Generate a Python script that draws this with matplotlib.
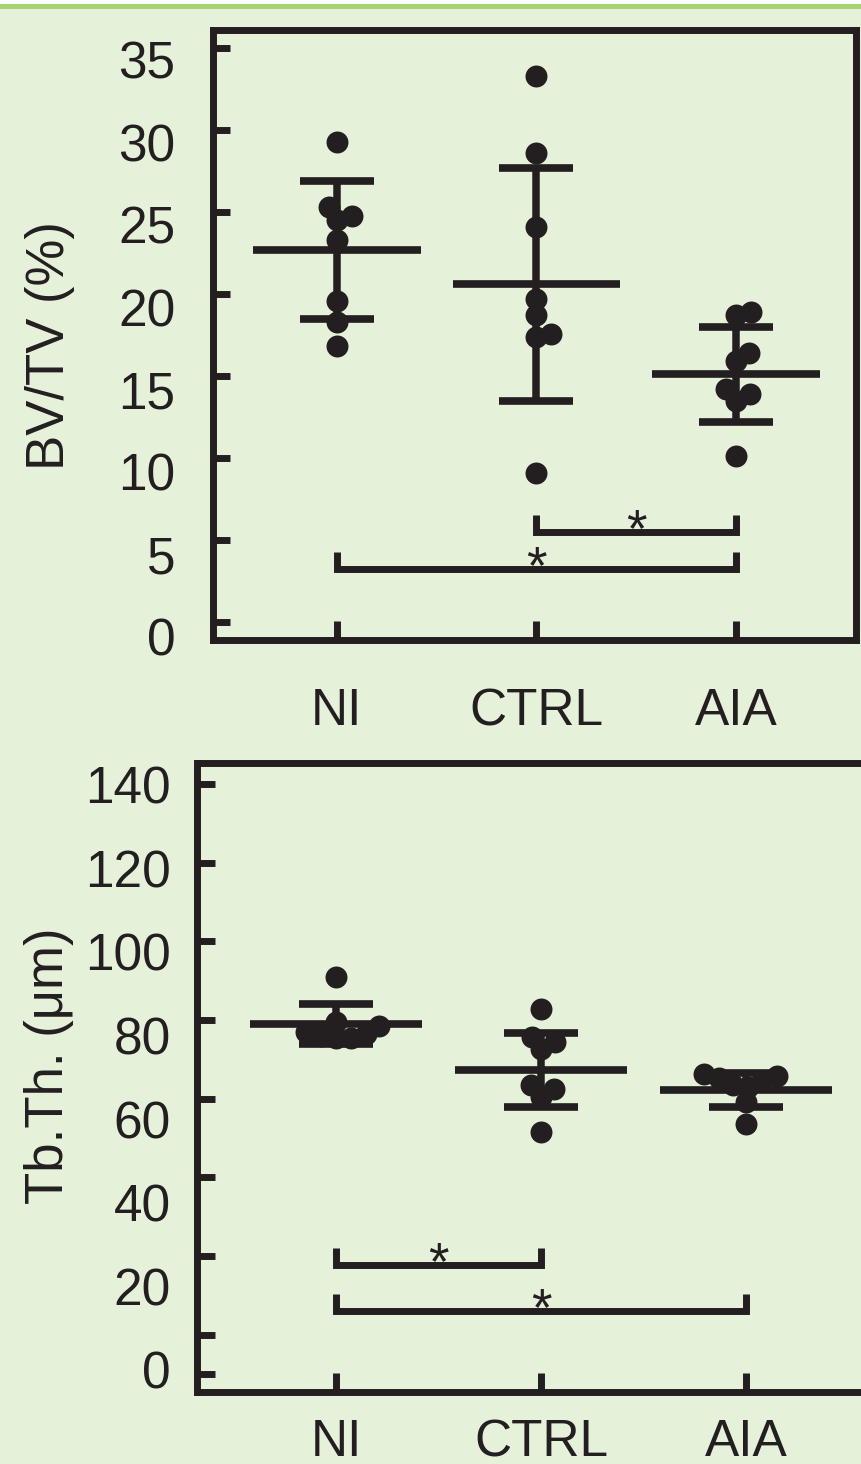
import numpy as np
import matplotlib
matplotlib.use("Agg")
import matplotlib.pyplot as plt
from matplotlib.patches import Rectangle

# ---------------- data ----------------
groups = ["NI", "CTRL", "AIA"]

bvtv_ni = [29.3, 25.3, 24.8, 24.5, 23.3, 19.6, 18.3, 16.85]
bvtv_ctrl = [33.3, 28.6, 24.1, 19.7, 18.7, 17.6, 17.4, 9.1]
bvtv_aia = [18.9, 18.7, 16.4, 15.9, 14.2, 13.9, 13.5, 10.1]
bvtv_mean = [22.7, 20.6, 15.1]
bvtv_sd = [4.2, 7.1, 2.9]
bvtv_ticks = [0, 5, 10, 15, 20, 25, 30, 35]
bvtv_label_span = (-0.9, 34.3)    # where the label texts sit on the axis
bvtv_sig_pairs = [(1, 2), (0, 2)]
bvtv_sig_level = [5.5, 3.25]

tbth_ni = [90.9, 79.5, 78.5, 77.0, 76.5, 76.0, 75.5, 75.5]
tbth_ctrl = [82.7, 75.8, 74.3, 72.6, 63.5, 62.5, 60.5, 51.6]
tbth_aia = [66.4, 65.8, 65.2, 64.5, 63.5, 63.0, 59.2, 53.6]
tbth_mean = [79.0, 67.3, 62.3]
tbth_sd = [5.1, 9.5, 4.3]
tbth_ticks = [-10, 0, 20, 40, 60, 80, 100, 120, 140]
tbth_labels = [0, 20, 40, 60, 80, 100, 120, 140]
tbth_label_span = (-8.9, 139.8)   # where the label texts sit on the axis
tbth_sig_pairs = [(0, 1), (0, 2)]
tbth_sig_level = [17.8, 6.1]

# ---------------- style ----------------
BG = "#E6F1D9"
INK = "#231F20"
GREEN = "#A9D373"
FONT = ["Liberation Sans", "DejaVu Sans"]
plt.rcParams["font.family"] = FONT
TICK_FS = 37
LABEL_FS = 38
STAR_FS = 38

W, H = 862, 1464
DPI = 100
fig = plt.figure(figsize=(W / DPI, H / DPI), dpi=DPI, facecolor=BG)

# top decoration strip
fig.patches.append(Rectangle((0, 1 - 9 / H), 1, 5 / H, transform=fig.transFigure,
                             facecolor=GREEN, edgecolor="none", zorder=0))
fig.patches.append(Rectangle((0, 1 - 4 / H), 1, 4 / H, transform=fig.transFigure,
                             facecolor="white", edgecolor="none", zorder=0))


def px_axes(l, t, r, b):
    return fig.add_axes([l / W, 1 - b / H, (r - l) / W, (b - t) / H])


def style_axes(ax, ytick_len, xtick_len):
    ax.set_facecolor("none")
    for sp in ax.spines.values():
        sp.set_linewidth(5)
        sp.set_color(INK)
        sp.set_capstyle("projecting")
    ax.tick_params(axis="both", direction="in", width=5, color=INK,
                   labelsize=TICK_FS, labelcolor=INK)
    ax.tick_params(axis="y", length=ytick_len)
    ax.tick_params(axis="x", length=xtick_len)


def set_y_labels(ax, ticks, labels, span, pad):
    ax.set_yticks(ticks)
    ax.set_yticklabels([])
    ax.set_yticks(np.linspace(span[0], span[1], len(labels)), minor=True)
    ax.set_yticklabels([str(t) for t in labels], minor=True)
    ax.tick_params(axis="y", which="minor", length=0, pad=pad,
                   labelsize=TICK_FS, labelcolor=INK)


def swarm_offsets(ax, xc, vals, min_d=15.0):
    pts = ax.transData.transform(np.column_stack([np.full(len(vals), xc), vals]))
    ys = pts[:, 1]
    order = np.argsort(vals)
    placed = []
    offs = np.zeros(len(vals))
    for i in order:
        done = False
        for k in range(0, 200):
            cands = [0.0] if k == 0 else [float(k), -float(k)]
            for c in cands:
                if all((c - px) ** 2 + (ys[i] - py) ** 2 >= min_d ** 2 for px, py in placed):
                    offs[i] = c
                    placed.append((c, ys[i]))
                    done = True
                    break
            if done:
                break
    x0 = ax.transData.transform((xc, 0))[0]
    x1 = ax.transData.transform((xc + 1, 0))[0]
    return xc + offs / (x1 - x0)


def draw_panel(ax, series, means, sds, pairs, levels, tip, star_dy):
    xs = np.arange(len(groups))
    for xc, vals in zip(xs, series):
        xpos = swarm_offsets(ax, xc, vals)
        ax.scatter(xpos, vals, s=250, color=INK, linewidths=0, zorder=3)
    ax.hlines(means, xs - 0.42, xs + 0.42, color=INK, linewidth=5.5, zorder=4)
    ax.errorbar(xs, means, yerr=sds, fmt="none", ecolor=INK, elinewidth=5.4,
                capsize=26.5, capthick=5.5, zorder=4)
    for (a, b), lvl in zip(pairs, levels):
        ax.plot([a, a, b, b], [lvl + tip, lvl, lvl, lvl + tip], color=INK,
                linewidth=5, solid_joinstyle="miter", solid_capstyle="butt", zorder=4)
        ax.annotate("*", xy=((a + b) / 2, lvl), xytext=(0, star_dy),
                    textcoords="offset points", ha="center", va="baseline",
                    fontsize=STAR_FS, color=INK, zorder=5)


# ---------------- top panel: BV/TV ----------------
ax1 = px_axes(213, 29.5, 856, 640)
ax1.set_xlim(-0.62, 2.60)
ax1.set_ylim(-1.1, 36.15)
style_axes(ax1, 12, 14)
ax1.set_xticks(range(len(groups)))
ax1.set_xticklabels(groups)
set_y_labels(ax1, bvtv_ticks, bvtv_ticks, bvtv_label_span, 27)
ax1.tick_params(axis="x", pad=34)
draw_panel(ax1, [bvtv_ni, bvtv_ctrl, bvtv_aia], bvtv_mean, bvtv_sd,
           bvtv_sig_pairs, bvtv_sig_level, 1.0, -10)
fig.text(50 / W, 1 - 346 / H, "BV/TV (%)", rotation=90, ha="center", va="center",
         fontsize=LABEL_FS, color=INK)

# ---------------- bottom panel: Tb.Th. ----------------
ax2 = px_axes(197.5, 763, 900, 1392)
ax2.set_xlim(-0.676, 2.751)
ax2.set_ylim(-14.5, 145.3)
style_axes(ax2, 13, 14)
ax2.set_xticks(range(len(groups)))
ax2.set_xticklabels(groups)
set_y_labels(ax2, tbth_ticks, tbth_labels, tbth_label_span, 19)
ax2.tick_params(axis="x", pad=19)
draw_panel(ax2, [tbth_ni, tbth_ctrl, tbth_aia], tbth_mean, tbth_sd,
           tbth_sig_pairs, tbth_sig_level, 4.3, -10)
fig.text(49 / W, 1 - 1066 / H, "Tb.Th. (\u03bcm)", rotation=90, ha="center",
         va="center", fontsize=LABEL_FS, color=INK)

fig.savefig("out.png", dpi=DPI, facecolor=BG)
